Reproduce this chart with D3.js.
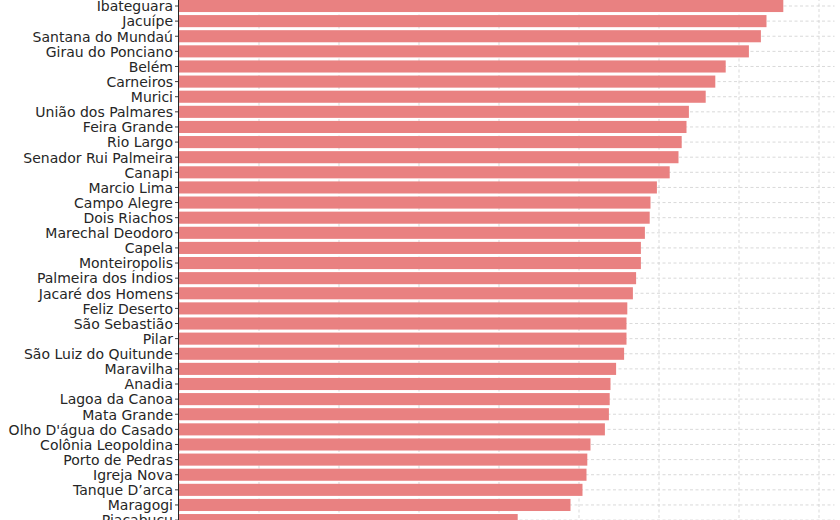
<!DOCTYPE html>
<html>
<head>
<meta charset="utf-8">
<script src="https://cdn.jsdelivr.net/npm/d3@7"></script>
<style>
  html, body { margin: 0; padding: 0; background: #ffffff; overflow: hidden; }
  svg { display: block; }
</style>
</head>
<body>
<svg id="chart" width="840" height="520"></svg>
<script>
const categories = [
  "Ibateguara", "Jacuípe", "Santana do Mundaú", "Girau do Ponciano", "Belém",
  "Carneiros", "Murici", "União dos Palmares", "Feira Grande", "Rio Largo",
  "Senador Rui Palmeira", "Canapi", "Marcio Lima", "Campo Alegre", "Dois Riachos",
  "Marechal Deodoro", "Capela", "Monteiropolis", "Palmeira dos Índios", "Jacaré dos Homens",
  "Feliz Deserto", "São Sebastião", "Pilar", "São Luiz do Quitunde", "Maravilha",
  "Anadia", "Lagoa da Canoa", "Mata Grande", "Olho D'água do Casado", "Colônia Leopoldina",
  "Porto de Pedras", "Igreja Nova", "Tanque D’arca", "Maragogi", "Piaçabuçu"
];
const values = [
  75.6, 73.5, 72.8, 71.3, 68.4,
  67.1, 65.9, 63.8, 63.5, 62.9,
  62.5, 61.4, 59.8, 59.0, 58.9,
  58.3, 57.8, 57.8, 57.2, 56.8,
  56.1, 56.0, 56.0, 55.7, 54.7,
  54.0, 53.9, 53.8, 53.3, 51.5,
  51.1, 51.0, 50.5, 49.0, 42.4
];
const gridTicks = [0, 10, 20, 30, 40, 50, 60, 70, 80];

const svg = d3.select("#chart");
const left = 178.5;
const step = 15.12;
const top0 = 6 - step * 0.5;

const x = d3.scaleLinear().domain([0, 82]).range([left, left + 656]);
const y = d3.scaleBand()
  .domain(categories)
  .range([top0, top0 + step * categories.length])
  .paddingInner(0.2)
  .paddingOuter(0.1);

const yTop = -20, yBottom = 540;

// vertical grid via axis
const xg = svg.append("g")
  .attr("transform", `translate(0,${yBottom})`)
  .call(d3.axisBottom(x).tickValues(gridTicks).tickSize(-(yBottom - yTop)).tickFormat(""));
xg.select(".domain").remove();
xg.selectAll(".tick line")
  .attr("stroke", "#cfcfcf")
  .attr("stroke-width", 0.8)
  .attr("stroke-dasharray", "3,2.5");

// horizontal grid via axis
const yg = svg.append("g")
  .attr("transform", `translate(${left},0)`)
  .call(d3.axisRight(y).tickSize(x.range()[1] - left).tickFormat(""));
yg.select(".domain").remove();
yg.selectAll(".tick line")
  .attr("stroke", "#cfcfcf")
  .attr("stroke-width", 0.8)
  .attr("stroke-dasharray", "3,2.5");

// bars
svg.append("g").selectAll("rect")
  .data(categories)
  .join("rect")
  .attr("x", x(0))
  .attr("y", d => y(d))
  .attr("width", (d, i) => x(values[i]) - x(0))
  .attr("height", y.bandwidth())
  .attr("fill", "#e98181");

// left axis
const ya = svg.append("g")
  .attr("transform", `translate(${left},0)`)
  .call(d3.axisLeft(y).tickSize(3.5).tickPadding(2));
ya.select(".domain").remove();
ya.append("line")
  .attr("x1", 0).attr("x2", 0)
  .attr("y1", yTop).attr("y2", yBottom)
  .attr("stroke", "#262626")
  .attr("stroke-width", 1);
ya.selectAll(".tick line").attr("stroke", "#262626").attr("stroke-width", 0.9);
ya.selectAll(".tick text")
  .attr("fill", "#262626")
  .attr("dy", "0.38em")
  .style("font-family", "'DejaVu Sans', sans-serif")
  .style("font-size", "14px");
</script>
</body>
</html>
